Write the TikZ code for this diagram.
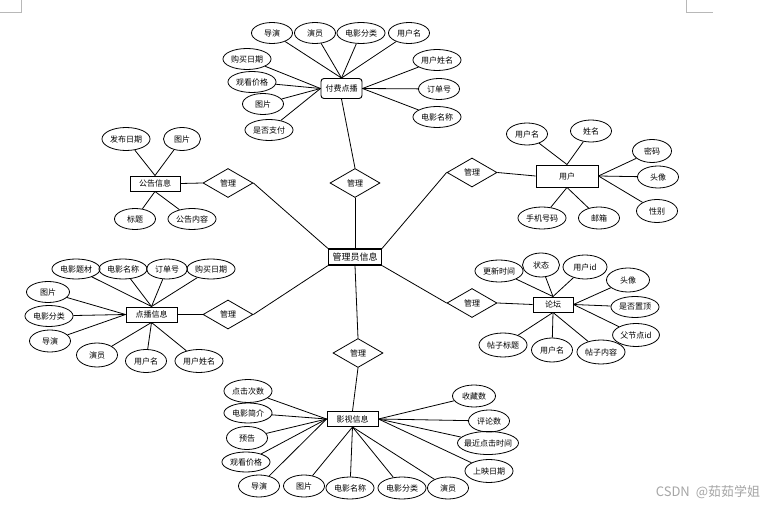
\documentclass[tikz,border=0pt]{standalone}
\usepackage{fontspec}
\setmainfont{Noto Sans CJK SC}
\usetikzlibrary{shapes.geometric}
\tikzset{
  attr/.style={ellipse, draw, line width=0.8pt, minimum width=41pt, minimum height=21pt, inner sep=1pt, font=\fontsize{8}{9}\selectfont},
  ent/.style={rectangle, draw, line width=0.95pt, inner sep=0pt, minimum height=15pt, font=\fontsize{8}{9}\selectfont},
  rel/.style={diamond, draw, line width=0.8pt, inner sep=0pt, minimum width=50pt, minimum height=29pt, font=\fontsize{8}{9}\selectfont},
  link/.style={line width=0.8pt},
  cornermark/.style={draw=black!28, line width=0.8pt}
}
\begin{document}
\begin{tikzpicture}[x=1pt,y=-1pt]
\fill[white] (0,0) rectangle (772,505);
\useasboundingbox (0,0) rectangle (772,505);
% page corner marks
\coordinate (c1) at (0,12); \coordinate (c2) at (21,12); \coordinate (c3) at (21,0);
\coordinate (c4) at (686,0); \coordinate (c5) at (686,12); \coordinate (c6) at (713,12);
\draw[cornermark] (c1) -- (c2) -- (c3);
\draw[cornermark] (c4) -- (c5) -- (c6);

% central entity
\node[ent, line width=1.2pt, minimum width=53pt, minimum height=16pt, font=\fontsize{9}{10}\selectfont] (main) at (355,257) {管理员信息};

% relationships
\node[rel] (d1) at (228,183) {管理};
\node[rel] (d2) at (228,314.5) {管理};
\node[rel] (d3) at (472,172.5) {管理};
\node[rel] (d4) at (472,303) {管理};
\node[rel] (d5) at (355,183) {管理};
\node[rel] (d6) at (358,353) {管理};

% 付费点播
\node[ent, rounded corners=3pt, minimum width=41pt, minimum height=20pt] (ff) at (341.5,88.5) {付费点播};
\node[attr] (ffa1) at (272,33) {导演};
\node[attr] (ffa2) at (315,33) {演员};
\node[attr] (ffa3) at (361,33) {电影分类};
\node[attr] (ffa4) at (409,33) {用户名};
\node[attr] (ffa5) at (247,59) {购买日期};
\node[attr] (ffa6) at (252,82) {观看价格};
\node[attr] (ffa7) at (263,104) {图片};
\node[attr] (ffa8) at (269,130) {是否支付};
\node[attr] (ffa9) at (437,60) {用户姓名};
\node[attr] (ffa10) at (439,89) {订单号};
\node[attr] (ffa11) at (437,117) {电影名称};
\foreach \a in {ffa1,ffa2,ffa3,ffa4} \draw[link] (ff.north) -- (\a);
\foreach \a in {ffa5,ffa6,ffa7,ffa8} \draw[link] (ff.west) -- (\a);
\foreach \a in {ffa9,ffa10,ffa11} \draw[link] (ff.east) -- (\a);

% 公告信息
\node[ent, minimum width=50pt] (gg) at (155,183.5) {公告信息};
\node[attr, minimum height=23pt] (gga1) at (126,139) {发布日期};
\node[attr, minimum width=37pt, minimum height=23pt] (gga2) at (182,139) {图片};
\node[attr] (gga3) at (135,219) {标题};
\node[attr] (gga4) at (192,219) {公告内容};
\foreach \a in {gga1,gga2} \draw[link] (gg.north) -- (\a);
\foreach \a in {gga3,gga4} \draw[link] (gg.south) -- (\a);

% 用户
\node[ent, minimum width=62pt, minimum height=22pt] (yh) at (567,176) {用户};
\node[attr, minimum height=22pt] (yha1) at (527,134) {用户名};
\node[attr, minimum height=22pt] (yha2) at (591,131) {姓名};
\node[attr, minimum width=39pt, minimum height=23pt] (yha3) at (652,151) {密码};
\node[attr, minimum height=22pt] (yha4) at (658,177) {头像};
\node[attr, minimum height=23pt] (yha5) at (657,211) {性别};
\node[attr, minimum height=22pt] (yha6) at (599,218) {邮箱};
\node[attr, minimum height=22pt] (yha7) at (542,218) {手机号码};
\foreach \a in {yha1,yha2} \draw[link] (yh.north) -- (\a);
\foreach \a in {yha3,yha4,yha5} \draw[link] (yh.east) -- (\a);
\foreach \a in {yha6,yha7} \draw[link] (yh.south) -- (\a);

% 点播信息
\node[ent, minimum width=51pt] (db) at (151.5,314.5) {点播信息};
\node[attr, minimum height=20pt] (dba1) at (76,269) {电影题材};
\node[attr, minimum height=20pt] (dba2) at (123,269) {电影名称};
\node[attr, minimum height=20pt] (dba3) at (167,269) {订单号};
\node[attr, minimum height=20pt] (dba4) at (211,269) {购买日期};
\node[attr, minimum width=43pt] (dba5) at (48,292) {图片};
\node[attr] (dba6) at (49,316) {电影分类};
\node[attr, minimum height=22pt] (dba7) at (50,341) {导演};
\node[attr, minimum height=24pt] (dba8) at (97,355) {演员};
\node[attr, minimum height=23pt] (dba9) at (146,361) {用户名};
\node[attr, minimum height=23pt] (dba10) at (199,361) {用户姓名};
\foreach \a in {dba1,dba2,dba3,dba4} \draw[link] (db.north) -- (\a);
\foreach \a in {dba5,dba6,dba7} \draw[link] (db.west) -- (\a);
\foreach \a in {dba8,dba9,dba10} \draw[link] (db.south) -- (\a);

% 论坛
\node[ent, minimum width=40pt] (lt) at (553,304.5) {论坛};
\node[attr, minimum height=22pt] (lta1) at (499,271) {更新时间};
\node[attr, minimum width=37pt, minimum height=24pt] (lta2) at (541,265) {状态};
\node[attr, minimum width=44pt, minimum height=24pt] (lta3) at (585,267) {用户id};
\node[attr, minimum width=43pt, minimum height=24pt] (lta4) at (628,280) {头像};
\node[attr] (lta5) at (635,307) {是否置顶};
\node[attr, minimum height=23pt] (lta6) at (636,335) {父节点id};
\node[attr, minimum height=24pt] (lta7) at (503,345) {帖子标题};
\node[attr, minimum height=24pt] (lta8) at (552,350) {用户名};
\node[attr, minimum height=24pt] (lta9) at (601,352) {帖子内容};
\foreach \a in {lta1,lta2,lta3} \draw[link] (lt.north) -- (\a);
\foreach \a in {lta4,lta5,lta6} \draw[link] (lt.east) -- (\a);
\foreach \a in {lta7,lta8,lta9} \draw[link] (lt.south) -- (\a);

% 影视信息
\node[ent, minimum width=51pt] (ys) at (352.5,419) {影视信息};
\node[attr, minimum height=23pt] (ysa1) at (248,391) {点击次数};
\node[attr, minimum height=20pt] (ysa2) at (248,413) {电影简介};
\node[attr, minimum height=23pt] (ysa3) at (247,438) {预告};
\node[attr, minimum height=20pt] (ysa4) at (246,462) {观看价格};
\node[attr, minimum height=22pt] (ysa5) at (259,486) {导演};
\node[attr, minimum height=22pt] (ysa6) at (304,486) {图片};
\node[attr, minimum height=22pt] (ysa7) at (350,488) {电影名称};
\node[attr, minimum height=22pt] (ysa8) at (402,488) {电影分类};
\node[attr, minimum height=22pt] (ysa9) at (448,488) {演员};
\node[attr, minimum width=43pt, minimum height=22pt] (ysa10) at (474,396) {收藏数};
\node[attr, minimum height=22pt] (ysa11) at (489,421) {评论数};
\node[attr, inner xsep=-4pt, minimum width=61pt, minimum height=23pt] (ysa12) at (488,443) {最近点击时间};
\node[attr, minimum height=23pt] (ysa13) at (489,471) {上映日期};
\foreach \a in {ysa1,ysa2,ysa3,ysa4,ysa5} \draw[link] (ys.west) -- (\a);
\foreach \a in {ysa6,ysa7,ysa8,ysa9} \draw[link] (ys.south) -- (\a);
\foreach \a in {ysa10,ysa11,ysa12,ysa13} \draw[link] (ys.east) -- (\a);

% relationship connectors
\draw[link] (ff.south) -- (d5.north);
\draw[link] (d5.south) -- (main.north);
\draw[link] (gg.east) -- (d1.west);
\draw[link] (d1.east) -- (main.north west);
\draw[link] (db.east) -- (d2.west);
\draw[link] (d2.east) -- (main.south west);
\draw[link] (d3.east) -- (yh.west);
\draw[link] (d3.west) -- (main.north east);
\draw[link] (d4.east) -- (lt.west);
\draw[link] (main.south east) -- (d4.west);
\draw[link] (main.south) -- (d6.north);
\draw[link] (d6.south) -- (ys.north);

% watermark
\node[font=\fontsize{13}{15}\selectfont, text=black!35, inner sep=0pt] (wm) at (708,492) {CSDN\hspace{6pt}@茹茹学姐};
\end{tikzpicture}
\end{document}
